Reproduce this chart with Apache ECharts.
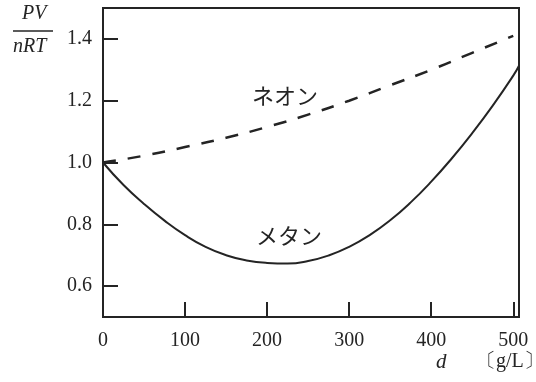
<!DOCTYPE html>
<html><head><meta charset="utf-8">
<script src="https://cdn.jsdelivr.net/npm/echarts@6/dist/echarts.min.js"></script>
<style>html,body{margin:0;padding:0;background:#fff}#c{width:536px;height:382px}</style>
</head><body><div id="c"></div>
<script>
const xTickLabels = [0, 100, 200, 300, 400, 500];
const yTickLabels = [0.6, 0.8, 1.0, 1.2, 1.4];
const neonX = [0, 50, 100, 150, 200, 250, 300, 350, 400, 450, 500];
const neonY = [1.0, 1.022, 1.05, 1.08, 1.115, 1.155, 1.20, 1.25, 1.30, 1.355, 1.41];
const methaneX = [0, 25, 50, 75, 100, 125, 150, 175, 200, 225, 250, 275, 300, 325, 350, 375, 400, 425, 450, 475, 500, 507];
const methaneY = [1.0, 0.927, 0.866, 0.812, 0.765, 0.727, 0.700, 0.683, 0.675, 0.673, 0.681, 0.699, 0.727, 0.765, 0.813, 0.871, 0.938, 1.013, 1.095, 1.184, 1.281, 1.313];
const neonLabel = 'ネオン';
const methaneLabel = 'メタン';

const ink = '#242424';
const serif = '"Liberation Serif", "DejaVu Serif", serif';
const chart = echarts.init(document.getElementById('c'));
chart.setOption({
  animation: false,
  backgroundColor: '#fff',
  grid: { left: 103, right: 17, top: 8, bottom: 65, show: true, borderColor: ink, borderWidth: 2 },
  xAxis: {
    type: 'value', min: 0, max: 507, interval: 100,
    splitLine: { show: false },
    axisLine: { lineStyle: { color: ink, width: 2 } },
    axisTick: { inside: true, length: 15, lineStyle: { color: ink, width: 2 }, customValues: [100, 200, 300, 400, 500] },
    axisLabel: { color: ink, fontFamily: serif, fontSize: 20, margin: 14, customValues: xTickLabels }
  },
  yAxis: {
    type: 'value', min: 0.5, max: 1.5, interval: 0.1,
    splitLine: { show: false },
    axisLine: { lineStyle: { color: ink, width: 2 } },
    axisTick: { inside: true, length: 15, lineStyle: { color: ink, width: 2 }, customValues: yTickLabels },
    axisLabel: { color: ink, fontFamily: serif, fontSize: 20, margin: 11, customValues: yTickLabels, formatter: v => v.toFixed(1) }
  },
  series: [
    { type: 'line', name: neonLabel, smooth: true, showSymbol: false, clip: true,
      data: neonX.map((x, i) => [x, neonY[i]]),
      lineStyle: { color: ink, width: 2.5, type: [13, 12] } },
    { type: 'line', name: methaneLabel, smooth: true, showSymbol: false, clip: true,
      data: methaneX.map((x, i) => [x, methaneY[i]]),
      lineStyle: { color: ink, width: 2 } }
  ],
  graphic: [
    { type: 'text', left: 22, top: 4, style: { text: 'PV', font: 'italic 20px ' + serif, fill: ink } },
    { type: 'line', shape: { x1: 13, y1: 31, x2: 53, y2: 31 }, style: { stroke: ink, lineWidth: 1.5 } },
    { type: 'text', left: 13, top: 37, style: { text: 'nRT', font: 'italic 20px ' + serif, fill: ink } },
    { type: 'text', left: 436, top: 352, style: { text: 'd', font: 'italic 21px ' + serif, fill: ink } },
    { type: 'text', left: 476, top: 352, style: { text: '〔g/L〕', font: '20px ' + serif, fill: ink } },
    { type: 'text', left: 252, top: 85, style: { text: neonLabel, font: '22px "Noto Sans CJK JP"', fill: ink } },
    { type: 'text', left: 256, top: 225, style: { text: methaneLabel, font: '22px "Noto Sans CJK JP"', fill: ink } }
  ]
});
</script></body></html>
